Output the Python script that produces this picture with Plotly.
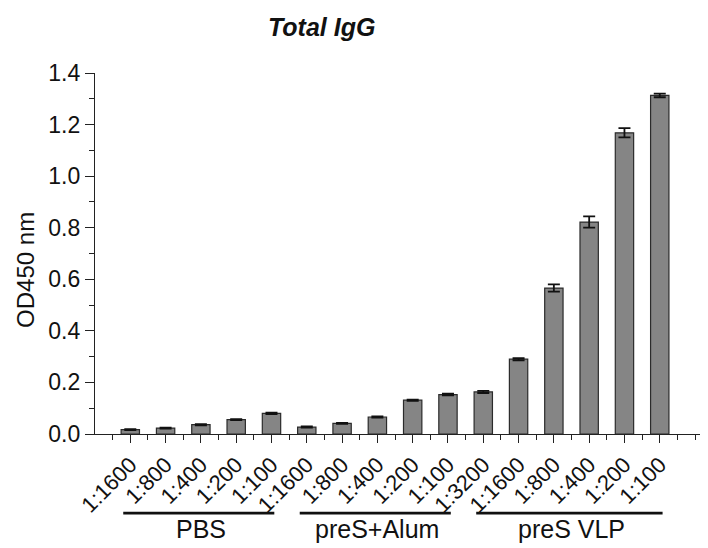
import plotly.graph_objects as go

dilutions = ["1:1600", "1:800", "1:400", "1:200", "1:100",
             "1:1600", "1:800", "1:400", "1:200", "1:100",
             "1:3200", "1:1600", "1:800", "1:400", "1:200", "1:100"]
od450 = [0.017, 0.023, 0.036, 0.056, 0.080,
         0.027, 0.041, 0.066, 0.131, 0.153,
         0.163, 0.290, 0.566, 0.822, 1.168, 1.313]
od450_err = [0.002, 0.002, 0.002, 0.002, 0.003,
             0.002, 0.002, 0.002, 0.002, 0.003,
             0.004, 0.004, 0.014, 0.022, 0.018, 0.007]
groups = ["PBS", "preS+Alum", "preS VLP"]
group_start = [0, 5, 10]
group_end = [4, 9, 15]

FONT = "Liberation Sans, Arial, sans-serif"
xpos = list(range(len(od450)))

fig = go.Figure(go.Bar(
    x=xpos, y=od450, width=0.52,
    marker=dict(color="#858585", line=dict(color="#2b2b2b", width=1.2)),
    error_y=dict(type="data", array=od450_err, visible=True,
                 color="#111111", thickness=1.8, width=6),
    showlegend=False,
))

fig.update_layout(
    width=700, height=540,
    margin=dict(l=87, r=8, t=65, b=114),
    paper_bgcolor="white", plot_bgcolor="white",
    font=dict(family=FONT, color="#111111"),
    xaxis=dict(
        range=[-1, 16.14], tickmode="array", tickvals=xpos, ticktext=dilutions,
        tickangle=-45, tickfont=dict(size=22), ticks="outside", ticklen=8,
        tickwidth=1.3, tickcolor="#222", showline=True, linecolor="#222",
        linewidth=1.3, showgrid=False, zeroline=False,
        minor=dict(tickmode="array", tickvals=[i - 0.5 for i in range(len(od450) + 1)] + [len(od450)],
                   ticks="outside", ticklen=5, tickwidth=1.3, tickcolor="#222", showgrid=False),
    ),
    yaxis=dict(
        range=[0, 1.4], tickmode="linear", tick0=0, dtick=0.2, tickformat=".1f",
        tickfont=dict(size=23), ticks="outside", ticklen=9, tickwidth=1.3,
        tickcolor="#222", showline=True, linecolor="#222", linewidth=1.3,
        showgrid=False, zeroline=False,
        minor=dict(dtick=0.1, tick0=0, ticks="outside", ticklen=5, tickwidth=1.3,
                   tickcolor="#222", showgrid=False),
    ),
)

fig.add_annotation(text="<b><i>Total IgG</i></b>", xref="paper", yref="paper",
                   x=0.374, y=1.128, xanchor="center", yanchor="middle",
                   showarrow=False, font=dict(size=25, family=FONT, color="#111"))
fig.add_annotation(text="OD450 nm", xref="paper", yref="paper", textangle=-90,
                   x=-0.116, y=0.454, xanchor="center", yanchor="middle",
                   showarrow=False, font=dict(size=24, family=FONT, color="#111"))

for name, s, e in zip(groups, group_start, group_end):
    fig.add_shape(type="line", xref="x", yref="paper", x0=s - 0.2, x1=e + 0.08,
                  y0=-0.219, y1=-0.219, line=dict(color="#111", width=2.8))
    fig.add_annotation(text=name, xref="x", yref="paper", x=(s + e) / 2, y=-0.263,
                       xanchor="center", yanchor="middle", showarrow=False,
                       font=dict(size=25, family=FONT, color="#111"))

fig.write_html("out.html")
